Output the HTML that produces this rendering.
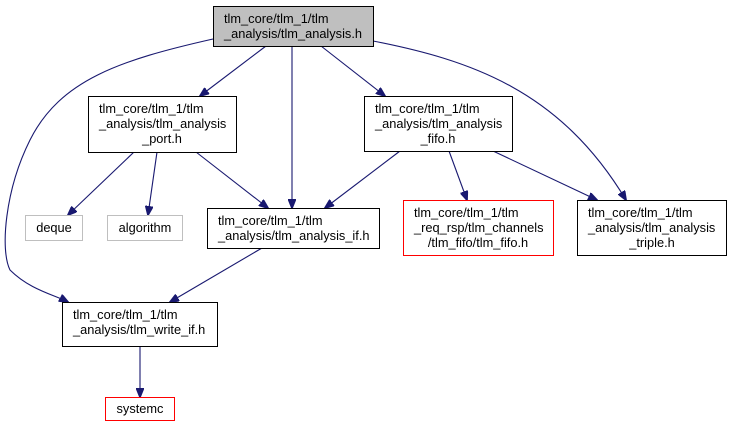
<!DOCTYPE html>
<html><head><style>body{margin:0;background:#fff}svg{display:block}text{font-family:"Liberation Sans",sans-serif;font-size:12.8px;fill:#000}</style></head><body>
<svg width="730" height="427" viewBox="0 0 730 427" xmlns="http://www.w3.org/2000/svg">
<defs><marker id="a" markerWidth="10" markerHeight="8" refX="9" refY="4" orient="auto" markerUnits="userSpaceOnUse"><path d="M0,0L10,4L0,8z" fill="#191970" stroke="#191970"/></marker></defs>
<g stroke="#191970" stroke-width="1.1" fill="none" marker-end="url(#a)">
<path d="M266,46L200,96"/>
<path d="M292,46L292,208"/>
<path d="M321,46L385,96"/>
<path d="M373,41C470,60 560,90 626,200"/>
<path d="M213,39C120,60 60,80 30,140C5,190 0,250 10,270C30,290 55,295 68,302"/>
<path d="M134,152L68,215"/>
<path d="M157,152L148,215"/>
<path d="M196,152L268,208"/>
<path d="M400,151L325,208"/>
<path d="M449,151L467,200"/>
<path d="M493,151L597,200"/>
<path d="M262,248L170,302"/>
<path d="M140,346L140,397"/>
</g>
<g stroke-width="1">
<rect x="213.5" y="6.5" width="160" height="40" fill="#bfbfbf" stroke="#000"/>
<rect x="88.5" y="96.5" width="148" height="56" fill="#fff" stroke="#000"/>
<rect x="364.5" y="96.5" width="148" height="55" fill="#fff" stroke="#000"/>
<rect x="25.5" y="215.5" width="57" height="25" fill="#fff" stroke="#bfbfbf"/>
<rect x="107.5" y="215.5" width="75" height="25" fill="#fff" stroke="#bfbfbf"/>
<rect x="207.5" y="208.5" width="172" height="40" fill="#fff" stroke="#000"/>
<rect x="403.5" y="200.5" width="150" height="55" fill="#fff" stroke="#f00"/>
<rect x="577.5" y="200.5" width="149" height="55" fill="#fff" stroke="#000"/>
<rect x="62.5" y="302.5" width="155" height="44" fill="#fff" stroke="#000"/>
<rect x="105.5" y="397.5" width="69" height="23" fill="#fff" stroke="#f00"/>
</g>
<text x="224" y="23">tlm_core/tlm_1/tlm</text>
<text x="224" y="38">_analysis/tlm_analysis.h</text>
<text x="99" y="113">tlm_core/tlm_1/tlm</text>
<text x="99" y="128">_analysis/tlm_analysis</text>
<text x="162" y="143" text-anchor="middle">_port.h</text>
<text x="375" y="113">tlm_core/tlm_1/tlm</text>
<text x="375" y="128">_analysis/tlm_analysis</text>
<text x="438" y="143" text-anchor="middle">_fifo.h</text>
<text x="54" y="232" text-anchor="middle">deque</text>
<text x="145" y="232" text-anchor="middle">algorithm</text>
<text x="218" y="225">tlm_core/tlm_1/tlm</text>
<text x="218" y="240">_analysis/tlm_analysis_if.h</text>
<text x="414" y="217">tlm_core/tlm_1/tlm</text>
<text x="414" y="232">_req_rsp/tlm_channels</text>
<text x="478" y="247" text-anchor="middle">/tlm_fifo/tlm_fifo.h</text>
<text x="588" y="217">tlm_core/tlm_1/tlm</text>
<text x="588" y="232">_analysis/tlm_analysis</text>
<text x="652" y="247" text-anchor="middle">_triple.h</text>
<text x="73" y="319">tlm_core/tlm_1/tlm</text>
<text x="73" y="334">_analysis/tlm_write_if.h</text>
<text x="140" y="413" text-anchor="middle">systemc</text>
</svg>
</body></html>
